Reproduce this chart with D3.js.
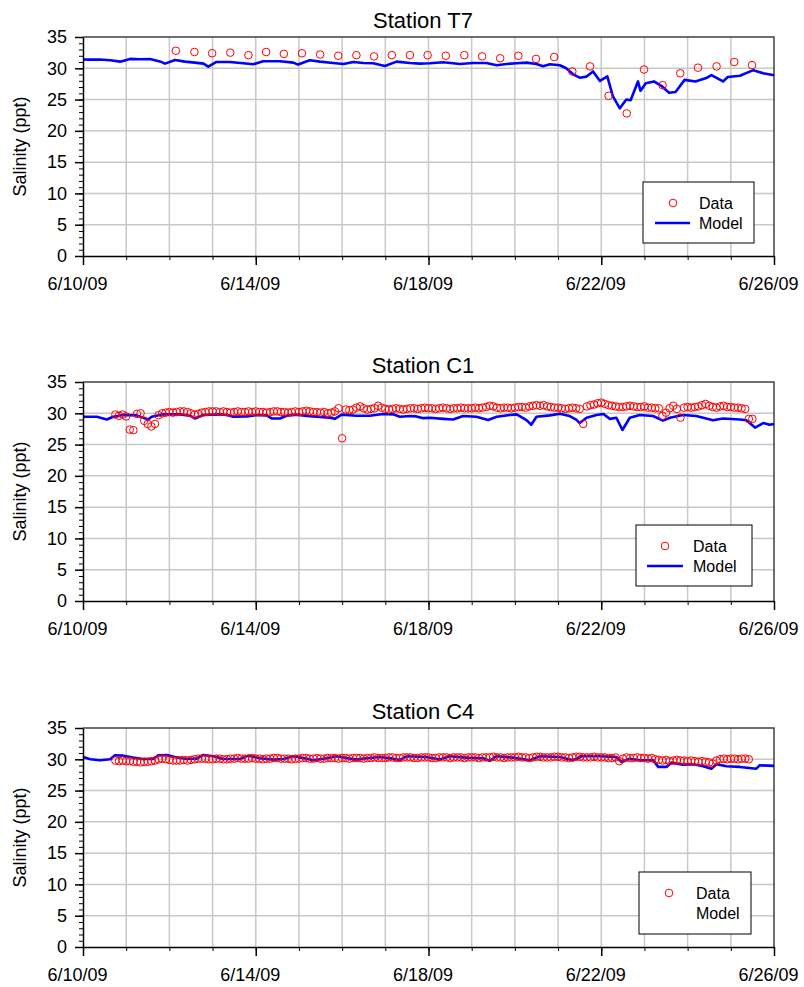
<!DOCTYPE html>
<html>
<head>
<meta charset="utf-8">
<script src="https://cdn.jsdelivr.net/npm/d3@7"></script>
<style>
  body { margin: 0; background: #fff; }
  text { font-family: Arial, "Liberation Sans", sans-serif; fill: #000; }
</style>
</head>
<body>
<svg id="chart" width="804" height="987"></svg>
<script>
// x values are days after 6/10/09 00:00
const dateTicks = [0, 4, 8, 12, 16];
const dateLabels = ["6/10/09", "6/14/09", "6/18/09", "6/22/09", "6/26/09"];
const salinityTicks = [0, 5, 10, 15, 20, 25, 30, 35];

// ---- Station T7 ----
const t7DataDay = [2.15, 2.58, 2.99, 3.41, 3.83, 4.24, 4.65, 5.07, 5.49, 5.91, 6.33, 6.74, 7.15, 7.57, 7.98,
  8.40, 8.83, 9.24, 9.66, 10.08, 10.49, 10.91, 11.33, 11.74, 12.17, 12.59, 12.99, 13.42, 13.83, 14.24,
  14.67, 15.08, 15.49];
const t7DataVal = [32.8, 32.6, 32.4, 32.5, 32.1, 32.6, 32.3, 32.4, 32.2, 32.0, 32.1, 31.9, 32.1, 32.1, 32.1,
  32.0, 32.1, 31.9, 31.6, 32.0, 31.5, 31.8, 29.5, 30.3, 25.6, 22.8, 29.8, 27.3, 29.2, 30.1,
  30.3, 31.0, 30.5];
const t7ModelDay = [0, 0.16, 0.39, 0.63, 0.86, 1.09, 1.32, 1.55, 1.78, 1.90, 2.13, 2.36, 2.59, 2.79, 2.90,
  3.09, 3.40, 3.71, 3.94, 4.17, 4.56, 4.87, 4.98, 5.25, 5.49, 5.79, 6.03, 6.26, 6.49, 6.72, 6.99,
  7.26, 7.57, 7.80, 8.03, 8.34, 8.73, 9.03, 9.34, 9.58, 9.81, 10.04, 10.27, 10.50, 10.65, 10.81,
  11.04, 11.19, 11.35, 11.50, 11.66, 11.81, 11.97, 12.14, 12.27, 12.43, 12.58, 12.68, 12.85, 12.91,
  13.03, 13.22, 13.41, 13.57, 13.72, 13.93, 14.18, 14.45, 14.55, 14.82, 14.93, 15.21, 15.52, 15.75, 16.0];
const t7ModelVal = [31.4, 31.38, 31.4, 31.28, 31.06, 31.5, 31.44, 31.49, 31.1, 30.74, 31.33, 31.06, 30.9, 30.74, 30.27,
  31.01, 31.0, 30.8, 30.64, 31.12, 31.12, 30.9, 30.59, 31.28, 31.06, 30.85, 30.69, 31.01, 30.85, 30.8, 30.37,
  31.06, 30.85, 30.74, 30.8, 30.96, 30.69, 30.85, 30.85, 30.48, 30.69, 30.8, 30.9, 30.69, 30.32, 30.64,
  30.48, 30.0, 29.04, 28.5, 28.67, 29.5, 27.98, 28.7, 25.5, 23.6, 25.0, 24.9, 27.9, 26.4,
  27.6, 27.9, 27.1, 26.1, 26.2, 28.15, 27.9, 28.5, 28.9, 27.9, 28.6, 28.8, 29.7, 29.2, 28.9];

// ---- Station C1 ----
// measured every 2 hours, first sample at day 0.75
const c1DataStart = 0.75;
const c1DataStep = 1 / 12;
const c1DataVal = [
  29.8, 29.6, 29.8,
  29.5, 27.4, 27.3, 29.9, 30.0, 28.8, 28.3, 27.9, 28.3, 29.7, 30.0, 30.1,
  30.2, 30.1, 30.2, 30.3, 30.3, 30.2, 30.0, 29.8, 29.9, 30.1, 30.2, 30.3,
  30.3, 30.3, 30.2, 30.3, 30.2, 30.1, 30.2, 30.3, 30.2, 30.2, 30.3, 30.2,
  30.3, 30.2, 30.2, 30.1, 30.2, 30.3, 30.3, 30.2, 30.2, 30.1, 30.2, 30.3,
  30.2, 30.3, 30.4, 30.3, 30.2, 30.2, 30.1, 30.2, 30.0, 30.1, 30.3, 30.8,
  26.0, 30.6, 30.5, 30.6, 30.9, 31.1, 30.8, 30.6, 30.7, 30.8, 31.2, 30.9,
  30.7, 30.6, 30.7, 30.8, 30.7, 30.6, 30.7, 30.8, 30.8, 30.7, 30.8, 30.9,
  30.8, 30.8, 30.7, 30.8, 30.9, 30.8, 30.7, 30.8, 30.8, 30.9, 30.8, 30.8,
  30.8, 30.9, 30.8, 30.9, 31.0, 31.2, 31.1, 30.9, 30.8, 30.9, 30.9, 30.8,
  30.9, 31.0, 31.0, 30.9, 31.1, 31.2, 31.3, 31.2, 31.3, 31.1, 31.0, 30.9,
  30.9, 30.8, 30.7, 30.8, 30.9, 30.8, 30.7, 28.3, 31.1, 31.3, 31.4, 31.6,
  31.7, 31.5, 31.3, 31.2, 31.1, 31.0, 31.0, 31.1, 31.2, 31.1, 31.0, 31.0,
  31.1, 30.9, 30.9, 30.8, 30.8, 29.6, 30.1, 30.8, 31.2, 30.7, 29.3, 30.9,
  31.0, 30.9, 31.0, 31.1, 31.3, 31.5, 31.2, 31.0, 30.9, 31.1, 31.2, 31.0,
  31.0, 30.9, 30.9, 30.8, 30.7, 29.1, 29.1];
const c1ModelDay = [0, 0.32, 0.55, 0.70, 0.93, 1.24, 1.51, 1.59, 1.86, 2.24, 2.48, 2.59, 2.79, 3.17, 3.33,
  3.48, 3.79, 4.02, 4.25, 4.37, 4.56, 4.71, 4.95, 5.18, 5.33, 5.72, 5.83, 5.99, 6.33, 6.64, 6.95,
  7.18, 7.34, 7.57, 7.72, 7.88, 8.03, 8.34, 8.57, 8.80, 9.11, 9.38, 9.58, 9.88, 10.04, 10.27, 10.38,
  10.50, 10.81, 11.04, 11.27, 11.42, 11.50, 11.66, 11.89, 12.05, 12.20, 12.35, 12.49, 12.66, 12.89,
  13.20, 13.43, 13.59, 13.89, 14.20, 14.59, 14.82, 15.21, 15.36, 15.56, 15.75, 15.90, 16.0];
const c1ModelVal = [29.44, 29.44, 29.0, 29.44, 29.72, 29.67, 29.0, 29.44, 29.83, 29.83, 29.61, 29.17, 29.72, 29.83, 29.72,
  29.44, 29.5, 29.72, 29.67, 29.17, 29.17, 29.61, 29.78, 29.56, 29.5, 29.28, 29.11, 29.78, 29.61, 29.61, 29.89,
  29.83, 29.44, 29.56, 29.5, 29.22, 29.28, 29.11, 29.0, 29.56, 29.44, 28.94, 29.44, 29.72, 29.83, 28.9, 28.17,
  29.44, 29.67, 29.94, 29.56, 29.0, 28.44, 29.28, 29.72, 29.9, 29.11, 29.28, 27.33, 29.28, 29.72,
  29.56, 28.83, 29.28, 29.72, 29.56, 28.9, 29.17, 29.0, 28.9, 27.72, 28.44, 28.17, 28.3];

// ---- Station C4 ----
const c4DataStart = 0.75;
const c4DataStep = 1 / 12;
const c4DataVal = [
  29.8, 29.7, 29.8,
  29.7, 29.7, 29.6, 29.6, 29.5, 29.6, 29.6, 29.7, 29.8, 30.0, 30.1, 30.0,
  29.9, 29.8, 29.8, 29.8, 29.9, 29.8, 29.9, 30.0, 30.1, 30.1, 30.1, 30.0,
  30.0, 30.1, 30.1, 30.0, 30.0, 30.1, 30.1, 30.2, 30.1, 30.1, 30.1, 30.2,
  30.1, 30.1, 30.0, 30.1, 30.1, 30.2, 30.2, 30.1, 30.1, 30.1, 30.0, 30.1,
  30.1, 30.2, 30.2, 30.1, 30.1, 30.2, 30.1, 30.1, 30.2, 30.2, 30.2, 30.1,
  30.2, 30.2, 30.1, 30.2, 30.2, 30.2, 30.1, 30.2, 30.2, 30.3, 30.2, 30.2,
  30.2, 30.3, 30.3, 30.2, 30.2, 30.3, 30.3, 30.3, 30.2, 30.2, 30.3, 30.3,
  30.3, 30.2, 30.2, 30.3, 30.3, 30.3, 30.2, 30.3, 30.3, 30.3, 30.2, 30.3,
  30.3, 30.3, 30.2, 30.3, 30.3, 30.3, 30.4, 30.3, 30.3, 30.2, 30.3, 30.3,
  30.3, 30.4, 30.3, 30.3, 30.2, 30.3, 30.4, 30.4, 30.3, 30.3, 30.3, 30.4,
  30.4, 30.3, 30.3, 30.2, 30.3, 30.4, 30.4, 30.3, 30.3, 30.3, 30.4, 30.3,
  30.3, 30.3, 30.2, 30.2, 30.3, 29.7, 30.1, 30.3, 30.2, 30.2, 30.3, 30.2,
  30.2, 30.1, 30.2, 30.0, 29.9, 29.8, 29.9, 29.7, 29.8, 29.9, 29.8, 29.8,
  29.7, 29.8, 29.7, 29.6, 29.7, 29.6, 29.5, 29.3, 29.8, 30.0, 30.1, 30.0,
  30.1, 30.1, 30.0, 30.1, 30.1, 30.0];
const c4ModelDay = [0, 0.17, 0.39, 0.63, 0.74, 0.93, 1.16, 1.39, 1.63, 1.74, 1.94, 2.13, 2.40, 2.63, 2.79,
  3.02, 3.25, 3.63, 3.83, 4.10, 4.41, 4.64, 4.87, 5.18, 5.33, 5.64, 5.87, 6.10, 6.33, 6.56, 6.87,
  7.18, 7.34, 7.49, 7.95, 8.26, 8.49, 8.88, 9.27, 9.42, 9.57, 9.96, 10.35, 10.58, 11.04, 11.35,
  11.54, 11.97, 12.35, 12.47, 12.66, 12.89, 13.20, 13.32, 13.51, 13.63, 13.89, 14.13, 14.36, 14.55,
  14.67, 14.90, 15.21, 15.59, 15.67, 16.0];
const c4ModelVal = [30.37, 30.0, 29.84, 30.0, 30.64, 30.58, 30.27, 30.05, 30.05, 30.64, 30.69, 30.37, 30.05, 30.1, 30.69,
  30.48, 30.05, 30.05, 30.58, 30.16, 29.95, 30.05, 30.48, 30.1, 29.84, 30.16, 30.48, 30.21, 29.95, 30.16, 30.37,
  30.1, 29.9, 30.48, 30.37, 29.95, 30.48, 30.27, 30.16, 29.74, 30.48, 30.27, 29.84, 30.48, 30.37, 29.84,
  30.48, 30.48, 30.37, 29.57, 30.1, 29.84, 29.84, 28.78, 28.78, 29.47, 29.15, 29.2, 28.88, 28.5,
  29.2, 28.88, 28.78, 28.5, 29.04, 28.94];

const svg = d3.select("#chart");
const LEFT = 83, RIGHT = 774, PH = 219;
const R = 3.8;

const x = d3.scaleLinear().domain([0, 16]).range([LEFT, RIGHT]);

function regular(start, step, vals) {
  return vals.map((v, i) => ({ d: start + i * step, v: v }));
}
function paired(days, vals) {
  return days.map((d, i) => ({ d: d, v: vals[i] }));
}

const panels = [
  { title: "Station T7", top: 37,
    data: paired(t7DataDay, t7DataVal), model: paired(t7ModelDay, t7ModelVal),
    legend: { x: 643, y: 182, w: 111, h: 61, mx: 673, lx1: 655, lx2: 690, tx: 699, line: true } },
  { title: "Station C1", top: 382,
    data: regular(c1DataStart, c1DataStep, c1DataVal), model: paired(c1ModelDay, c1ModelVal),
    legend: { x: 636, y: 525, w: 116, h: 61, mx: 665, lx1: 647, lx2: 683, tx: 693, line: true } },
  { title: "Station C4", top: 728,
    data: regular(c4DataStart, c4DataStep, c4DataVal), model: paired(c4ModelDay, c4ModelVal),
    legend: { x: 639, y: 872, w: 112, h: 62, mx: 669, lx1: 651, lx2: 687, tx: 696, line: false } }
];

panels.forEach(p => {
  const bottom = p.top + PH;
  const y = d3.scaleLinear().domain([0, 35]).range([bottom, p.top]);
  const g = svg.append("g");

  // grid
  g.append("g").selectAll("line")
    .data(d3.range(1, 16))
    .join("line")
    .attr("x1", d => x(d)).attr("x2", d => x(d))
    .attr("y1", p.top).attr("y2", bottom)
    .attr("stroke", "#c8c8c8").attr("stroke-width", 1.5);
  g.append("g").selectAll("line")
    .data(d3.range(5, 35, 5))
    .join("line")
    .attr("x1", LEFT).attr("x2", RIGHT)
    .attr("y1", d => y(d)).attr("y2", d => y(d))
    .attr("stroke", "#c8c8c8").attr("stroke-width", 1.5);

  // frame top/right
  g.append("path")
    .attr("d", `M${LEFT},${p.top}H${RIGHT}V${bottom}`)
    .attr("fill", "none").attr("stroke", "#404040").attr("stroke-width", 1.5);

  // model line
  g.append("path")
    .datum(p.model)
    .attr("fill", "none")
    .attr("stroke", "#0000ff")
    .attr("stroke-width", 2.6)
    .attr("stroke-linejoin", "round")
    .attr("d", d3.line().x(d => x(d.d)).y(d => y(d.v)));

  // data points
  g.append("g").selectAll("circle")
    .data(p.data)
    .join("circle")
    .attr("cx", d => x(d.d)).attr("cy", d => y(d.v))
    .attr("r", R)
    .attr("fill", "none").attr("stroke", "#ff0000").attr("stroke-width", 1);

  // minor ticks
  g.append("g")
    .attr("transform", `translate(${LEFT},0)`)
    .call(d3.axisLeft(y).tickValues(d3.range(0, 36)).tickSize(4).tickSizeOuter(0).tickFormat(""))
    .call(a => a.select(".domain").remove());
  g.append("g")
    .attr("transform", `translate(0,${bottom})`)
    .call(d3.axisBottom(x).tickValues(d3.range(0, 17)).tickSize(4).tickSizeOuter(0).tickFormat(""))
    .call(a => a.select(".domain").remove());

  // major axes
  const ya = g.append("g")
    .attr("transform", `translate(${LEFT},0)`)
    .call(d3.axisLeft(y).tickValues(salinityTicks).tickSize(8).tickSizeOuter(0).tickPadding(8));
  const xa = g.append("g")
    .attr("transform", `translate(0,${bottom})`)
    .call(d3.axisBottom(x).tickValues(dateTicks).tickSize(9).tickSizeOuter(0).tickPadding(12)
      .tickFormat((d, i) => dateLabels[i]));
  [ya, xa].forEach(a => {
    a.selectAll("text").style("font-size", "18px").attr("fill", "#000");
    a.selectAll("line").attr("stroke-width", 1.5);
    a.select(".domain").attr("stroke-width", 1.5);
  });
  xa.selectAll("text").attr("dx", -6);

  // title and y label
  g.append("text")
    .attr("x", 423).attr("y", p.top - 9)
    .attr("text-anchor", "middle")
    .style("font-size", "22px")
    .text(p.title);
  g.append("text")
    .attr("transform", `translate(26,${(p.top + bottom) / 2}) rotate(-90)`)
    .attr("text-anchor", "middle")
    .style("font-size", "18px")
    .text("Salinity (ppt)");

  // legend
  const L = p.legend;
  const lg = g.append("g");
  lg.append("rect")
    .attr("x", L.x).attr("y", L.y).attr("width", L.w).attr("height", L.h)
    .attr("fill", "#fff").attr("stroke", "#000").attr("stroke-width", 1);
  const r1 = L.y + 21, r2 = L.y + 41;
  lg.append("circle")
    .attr("cx", L.mx).attr("cy", r1).attr("r", R)
    .attr("fill", "none").attr("stroke", "#ff0000").attr("stroke-width", 1);
  if (L.line) {
    lg.append("line")
      .attr("x1", L.lx1).attr("x2", L.lx2).attr("y1", r2).attr("y2", r2)
      .attr("stroke", "#0000ff").attr("stroke-width", 2.6);
  }
  lg.append("text").attr("x", L.tx).attr("y", r1 + 6).style("font-size", "16px").text("Data");
  lg.append("text").attr("x", L.tx).attr("y", r2 + 6).style("font-size", "16px").text("Model");
});
</script>
</body>
</html>
